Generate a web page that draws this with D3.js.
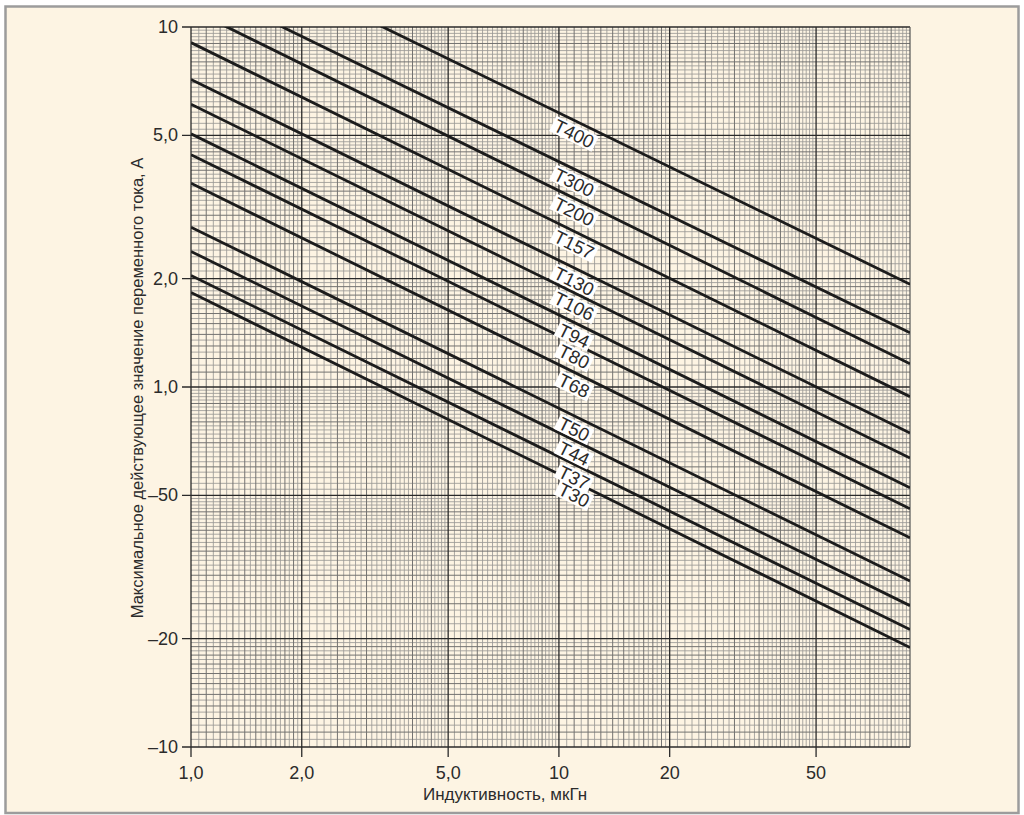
<!DOCTYPE html>
<html>
<head>
<meta charset="utf-8">
<script src="https://cdn.jsdelivr.net/npm/d3@7"></script>
<style>
  body { margin: 0; background: #fff; }
  svg { display: block; }
  text { font-family: "Liberation Sans Narrow", "Arial Narrow", "Liberation Sans", Arial, sans-serif; fill: #2b2b2b; }
</style>
</head>
<body>
<div id="chart"></div>
<script>
// toroid cores, max AC current vs inductance (log-log)
const seriesNames = ["T400", "T300", "T200", "T157", "T130", "T106", "T94", "T80", "T68", "T50", "T44", "T37", "T30"];
// current (A) read at L = 1,0 uH and at the right edge L = 90 uH
const currentAt1 = [18.2, 13.3, 11.2, 9.05, 7.15, 6.1, 5.05, 4.42, 3.68, 2.78, 2.38, 2.04, 1.83];
const currentAt90 = [1.93, 1.415, 1.16, 0.94, 0.745, 0.635, 0.525, 0.459, 0.381, 0.289, 0.247, 0.212, 0.189];

const xTickValues = [1, 2, 5, 10, 20, 50];
const xTickLabels = ["1,0", "2,0", "5,0", "10", "20", "50"];
const yTickValues = [10, 5, 2, 1, 0.5, 0.2, 0.1];
const yTickLabels = ["10", "5,0", "2,0", "1,0", "–50", "–20", "–10"];

const width = 1024, height = 815;
const plotLeft = 191, plotRight = 910, plotTop = 27, plotBottom = 747;

const svg = d3.select("#chart").append("svg")
    .attr("width", width)
    .attr("height", height);

// frame
svg.append("rect")
    .attr("x", 5.5).attr("y", 6.5)
    .attr("width", 1013).attr("height", 806.5)
    .attr("fill", "#fdf4e3")
    .attr("stroke", "#9c9c9c")
    .attr("stroke-width", 2.5);

const x = d3.scaleLog().domain([1, 90]).range([plotLeft, plotRight]);
const y = d3.scaleLog().domain([0.1, 10]).range([plotBottom, plotTop]);

// graph paper grid
function gridValues(lo, hi) {
    let minor = [], mid = [];
    for (let dec = lo; dec < hi; dec *= 10) {
        let parts = [[1, 2, 0.05, 0.1], [2, 5, 0.1, 0.5], [5, 10, 0.2, 1]];
        parts.forEach(function (p) {
            let n = Math.round((p[1] - p[0]) / p[2]);
            for (let i = 1; i < n; i++) {
                let v = p[0] + i * p[2];
                let k = Math.round((v - p[0]) / p[3] * 1000) / 1000;
                if (Number.isInteger(k)) mid.push(v * dec); else minor.push(v * dec);
            }
        });
    }
    return { minor: minor, mid: mid };
}

const xg = gridValues(1, 100);
const yg = gridValues(0.1, 10);
const xMinor = xg.minor.filter(function (v) { return v < 90; });
const xMid = xg.mid.filter(function (v) { return v < 90; });

const grid = svg.append("g");

grid.append("g").selectAll("line")
    .data(xMinor)
    .enter().append("line")
    .attr("x1", function (d) { return x(d); }).attr("x2", function (d) { return x(d); })
    .attr("y1", plotTop).attr("y2", plotBottom)
    .attr("stroke", "#9b9996").attr("stroke-width", 0.85);

grid.append("g").selectAll("line")
    .data(yg.minor)
    .enter().append("line")
    .attr("y1", function (d) { return y(d); }).attr("y2", function (d) { return y(d); })
    .attr("x1", plotLeft).attr("x2", plotRight)
    .attr("stroke", "#9b9996").attr("stroke-width", 0.85);

grid.append("g").selectAll("line")
    .data(xMid)
    .enter().append("line")
    .attr("x1", function (d) { return x(d); }).attr("x2", function (d) { return x(d); })
    .attr("y1", plotTop).attr("y2", plotBottom)
    .attr("stroke", "#737270").attr("stroke-width", 1);

grid.append("g").selectAll("line")
    .data(yg.mid)
    .enter().append("line")
    .attr("y1", function (d) { return y(d); }).attr("y2", function (d) { return y(d); })
    .attr("x1", plotLeft).attr("x2", plotRight)
    .attr("stroke", "#737270").attr("stroke-width", 1);

// major lines
grid.append("g").selectAll("line")
    .data(xTickValues)
    .enter().append("line")
    .attr("x1", function (d) { return x(d); }).attr("x2", function (d) { return x(d); })
    .attr("y1", plotTop).attr("y2", plotBottom + 10)
    .attr("stroke", "#2a2a2a").attr("stroke-width", 1.3);

grid.append("g").selectAll("line")
    .data(yTickValues)
    .enter().append("line")
    .attr("y1", function (d) { return y(d); }).attr("y2", function (d) { return y(d); })
    .attr("x1", plotLeft - 9).attr("x2", plotRight)
    .attr("stroke", "#2a2a2a").attr("stroke-width", 1.3);

grid.append("line")
    .attr("x1", plotRight).attr("x2", plotRight)
    .attr("y1", plotTop).attr("y2", plotBottom)
    .attr("stroke", "#555").attr("stroke-width", 1.2);

// tick labels
svg.append("g").selectAll("text")
    .data(xTickValues)
    .enter().append("text")
    .attr("x", function (d) { return x(d); })
    .attr("y", 779)
    .attr("text-anchor", "middle")
    .attr("font-size", 18)
    .text(function (d, i) { return xTickLabels[i]; });

svg.append("g").selectAll("text")
    .data(yTickValues)
    .enter().append("text")
    .attr("x", 178)
    .attr("y", function (d) { return y(d) + 6; })
    .attr("text-anchor", "end")
    .attr("font-size", 18)
    .text(function (d, i) { return yTickLabels[i]; });

// axis titles
svg.append("text")
    .attr("x", 505).attr("y", 800)
    .attr("text-anchor", "middle")
    .attr("font-size", 17)
    .text("Индуктивность, мкГн");

svg.append("text")
    .attr("transform", "translate(143," + 388 + ") rotate(-90)")
    .attr("text-anchor", "middle")
    .attr("font-size", 16.5)
    .text("Максимальное действующее значение переменного тока, А");

// curves
svg.append("clipPath").attr("id", "plot-clip")
    .append("rect")
    .attr("x", plotLeft).attr("y", plotTop)
    .attr("width", plotRight - plotLeft).attr("height", plotBottom - plotTop);

const lines = seriesNames.map(function (name, i) {
    return { name: name, points: [[1, currentAt1[i]], [90, currentAt90[i]]] };
});

const lineGen = d3.line()
    .x(function (d) { return x(d[0]); })
    .y(function (d) { return y(d[1]); });

svg.append("g")
    .attr("clip-path", "url(#plot-clip)")
    .selectAll("path")
    .data(lines)
    .enter().append("path")
    .attr("d", function (d) { return lineGen(d.points); })
    .attr("fill", "none")
    .attr("stroke", "#1c1c1c")
    .attr("stroke-width", 2.8);

// labels sitting just under each line
const labelX = 574;
const labels = svg.append("g").selectAll("g")
    .data(lines)
    .enter().append("g")
    .attr("transform", function (d) {
        let x0 = x(d.points[0][0]), y0 = y(d.points[0][1]);
        let x1 = x(d.points[1][0]), y1 = y(d.points[1][1]);
        let yy = y0 + (labelX - x0) * (y1 - y0) / (x1 - x0);
        let angle = Math.atan2(y1 - y0, x1 - x0) * 180 / Math.PI;
        return "translate(" + labelX + "," + (yy + 13.5) + ") rotate(" + angle + ")";
    });

labels.append("rect")
    .attr("fill", "#fff");

labels.append("text")
    .attr("text-anchor", "middle")
    .attr("y", 6.5)
    .attr("font-size", 18.5)
    .attr("fill", "#1d2430")
    .text(function (d) { return d.name; });

labels.each(function () {
    let g = d3.select(this);
    let b = g.select("text").node().getBBox();
    g.select("rect")
        .attr("x", b.x - 2.5).attr("y", -8.5)
        .attr("width", b.width + 5).attr("height", 17);
});
</script>
</body>
</html>
